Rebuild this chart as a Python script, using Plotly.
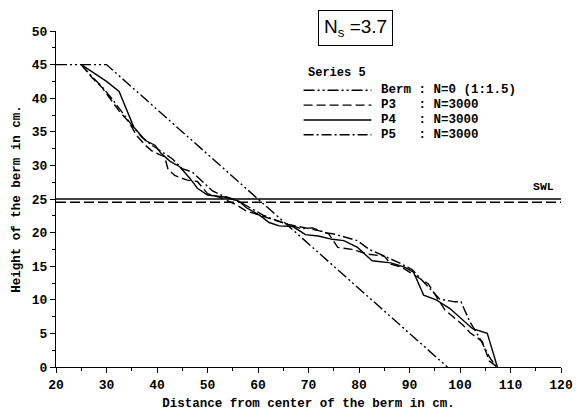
import plotly.graph_objects as go

# Initial berm profile (slope 1:1.5) and still water level
berm_x = [20, 30, 97.5]
berm_y = [45, 45, 0]
swl_solid = 25.0
swl_dashed = 24.5

# Measured profiles after N=3000 waves
p3_x = [25, 27.2, 29.1, 30.9, 32.5, 34.4, 36, 37.7, 38.9, 40.5, 41.5, 42.2, 43.5, 46, 48, 50,
        53, 55.8, 57.7, 60.3, 63, 66, 69.4, 72, 74, 75.8, 78.6, 81.7, 85, 86.3, 88.3, 91,
        93.7, 97, 100.5, 102, 104.4, 105.8, 107.4]
p3_y = [45, 43, 41.6, 39.8, 38.1, 36.5, 34.4, 33, 32.2, 31.6, 31.3, 29.4, 28.5, 27.8, 27.6, 25.8,
        25.1, 24.1, 23.2, 22.6, 21.9, 21.2, 20.7, 20.3, 19.8, 17.8, 17.5, 16.8, 16.5, 15.3, 14.9, 13.7,
        12.4, 8.5, 6.3, 5.1, 3.8, 0.9, 0]

p4_x = [25, 28, 30, 32.5, 34, 35.4, 37.7, 39.6, 40.8, 42.6, 44.5, 46.5, 48, 50, 53.3, 56.2,
        57.7, 60.3, 62.2, 64.2, 66.9, 69.4, 71.9, 74.7, 77, 79.7, 82.6, 86.3, 88.9, 90.8, 92.8,
        95.3, 98, 100.5, 102.5, 105.4, 107.4]
p4_y = [45, 43.5, 42.5, 41, 38.4, 35.7, 33.7, 33, 31.8, 30.6, 29.8, 28.1, 26.6, 25.6, 25.3, 24.7,
        23.7, 22.6, 21.5, 21, 20.9, 19.7, 19.5, 19, 18.8, 17.8, 15.8, 15.5, 14.9, 14.1, 10.7,
        10.0, 8.7, 7.1, 5.7, 5.0, 0]

p5_x = [25, 27, 29, 31, 33, 35, 37, 39, 41, 43, 45, 47, 49, 51, 53, 55, 57, 59, 61, 63, 66,
        68.5, 70.8, 73.3, 75, 77.2, 79.7, 82, 85, 88, 90.5, 93, 96, 99, 100.2, 101.9, 103.9,
        105.8, 107.2]
p5_y = [45, 43.3, 41.8, 40, 38, 36, 34.2, 33, 32, 31, 29.5, 29, 27.6, 26.2, 25.5, 25, 24.3,
        23.5, 22.6, 22, 21.2, 20.6, 20.7, 20, 19.8, 19.3, 18.8, 17.5, 16.5, 15.5, 14.5, 12.5,
        10.1, 9.7, 9.7, 6.8, 4.3, 1.5, 0]

legend_names = ["Berm", "P3", "P4", "P5"]
legend_info = ["N=0 (1:1.5)", "N=3000", "N=3000", "N=3000"]

MONO = "Liberation Mono"
DASH_BERM = "11px,3px,2px,3px,2px,3px"
DASH_P3 = "9px,4px"
DASH_P5 = "10px,3px,2px,3px"
DASH_SWL = "10px,4px"
styles = [DASH_BERM, DASH_P3, "solid", DASH_P5]

fig = go.Figure()

for xs, ys, dash in [(berm_x, berm_y, DASH_BERM), (p3_x, p3_y, DASH_P3),
                     (p4_x, p4_y, "solid"), (p5_x, p5_y, DASH_P5)]:
    fig.add_trace(go.Scatter(x=xs, y=ys, mode="lines", showlegend=False,
                             line=dict(color="black", width=1.4, dash=dash)))

# Still water level lines
fig.add_trace(go.Scatter(x=[20, 120], y=[swl_solid, swl_solid], mode="lines", showlegend=False,
                         line=dict(color="black", width=1.5)))
fig.add_trace(go.Scatter(x=[20, 120], y=[swl_dashed, swl_dashed], mode="lines", showlegend=False,
                         line=dict(color="black", width=1.5, dash=DASH_SWL)))

W, H = 585, 419
ml, mr, mt, mb = 56, 15, 31, 48
pw, ph = W - ml - mr, H - mt - mb


def px2paper(px, py):
    return (px - ml) / pw, (H - mb - py) / ph


annotations = []
shapes = []

# Legend block
sx, sy = px2paper(310, 74)
annotations.append(dict(x=sx, y=sy, xref="paper", yref="paper", xanchor="left", yanchor="middle",
                        text="<b>Series 5</b>", showarrow=False,
                        font=dict(family=MONO, size=12, color="black")))
for i, (name, info, dash) in enumerate(zip(legend_names, legend_info, styles)):
    row_y = 91 + i * 15
    x0, y0 = px2paper(308, row_y)
    x1, _ = px2paper(377, row_y)
    shapes.append(dict(type="line", xref="paper", yref="paper", x0=x0, x1=x1, y0=y0, y1=y0,
                       line=dict(color="black", width=1.4, dash=dash)))
    tx, _ = px2paper(385, row_y)
    label = name.ljust(5).replace(" ", "\u00a0") + ":\u00a0" + info.replace(" ", "\u00a0")
    annotations.append(dict(x=tx, y=y0, xref="paper", yref="paper", xanchor="left", yanchor="middle",
                            text="<b>" + label + "</b>", showarrow=False,
                            font=dict(family=MONO, size=12.5, color="black")))

# Stability number box
bx, by = px2paper(361, 28)
annotations.append(dict(x=bx, y=by, xref="paper", yref="paper", xanchor="center", yanchor="middle",
                        text="N<sub>s</sub> =3.7", showarrow=False, bordercolor="black", borderwidth=1,
                        borderpad=5, font=dict(family="Liberation Sans", size=19, color="black")))

# SWL label
annotations.append(dict(x=116.5, y=26.9, xref="x", yref="y", xanchor="center", yanchor="middle",
                        text="<b>SWL</b>", showarrow=False,
                        font=dict(family=MONO, size=11.5, color="black")))

axis_common = dict(showgrid=False, zeroline=False, showline=True, linecolor="black", linewidth=1.2,
                   ticks="outside", ticklen=5, tickwidth=1.2, tickcolor="black",
                   tickfont=dict(family=MONO, size=13, color="black", weight="bold"),
                   mirror=False)

fig.update_layout(
    width=W, height=H,
    margin=dict(l=ml, r=mr, t=mt, b=mb),
    plot_bgcolor="white", paper_bgcolor="white",
    showlegend=False,
    annotations=annotations,
    shapes=shapes,
    xaxis=dict(range=[20, 120], dtick=10, tick0=20,
               minor=dict(dtick=5, ticks="outside", ticklen=3, tickcolor="black", tickwidth=1),
               title=dict(text="Distance from center of the berm in cm.", standoff=6,
                          font=dict(family=MONO, size=12.5, color="black", weight="bold")),
               **axis_common),
    yaxis=dict(range=[0, 50], dtick=5, tick0=0,
               minor=dict(dtick=2.5, ticks="outside", ticklen=3, tickcolor="black", tickwidth=1),
               title=dict(text="Height of the berm in cm.", standoff=8,
                          font=dict(family=MONO, size=12.5, color="black", weight="bold")),
               **axis_common),
)

fig.write_html("out.html")
